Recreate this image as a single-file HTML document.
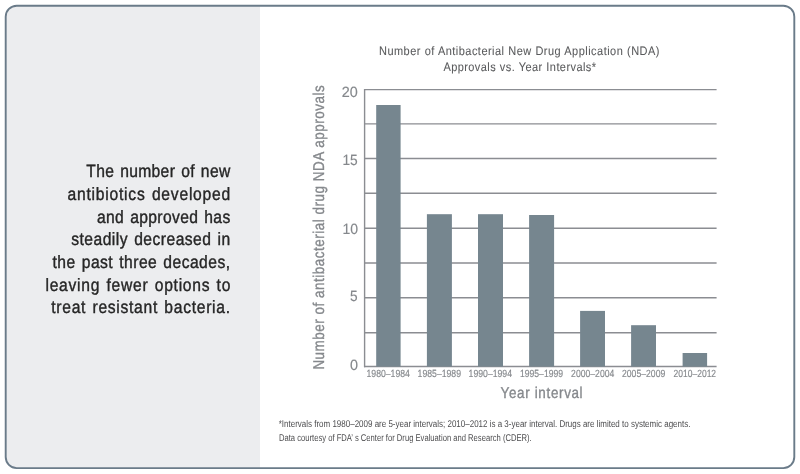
<!DOCTYPE html>
<html lang="en">
<head>
<meta charset="utf-8">
<title>Antibacterial NDA approvals</title>
<style>
  html, body { margin: 0; padding: 0; background: #ffffff; }
  body { width: 800px; height: 474px; overflow: hidden; position: relative;
         font-family: "Liberation Sans", sans-serif; }
  .card { position: absolute; left: 0; top: 0; width: 800px; height: 474px; }
  svg.art { position: absolute; left: 0; top: 0; width: 800px; height: 474px; }
  svg.art text { font-family: "Liberation Sans", sans-serif; text-rendering: geometricPrecision; }
  .lead { fill: #262626; stroke: #262626; stroke-width: 0.4px; font-size: 17.8px; word-spacing: 1.5px; }
  .title { fill: #5a5b5d; stroke: #5a5b5d; stroke-width: 0.08px; font-size: 12.2px; word-spacing: 0.3px; }
  .axis { fill: #85888c; }
  .note { fill: #4d4d4f; font-size: 9.8px; text-rendering: geometricPrecision; }
</style>
</head>
<body>
<div class="card">
<svg class="art" viewBox="0 0 800 474" width="800" height="474">
  <!-- card frame and side panel -->
  <path d="M260 5.7 H16.7 A11 11 0 0 0 5.7 16.7 V457.1 A11 11 0 0 0 16.7 468.1 H260 Z" fill="#ecedef"/>
  <rect x="5.7" y="5.7" width="788.6" height="462.4" rx="11" ry="11" fill="none" stroke="#6a7b89" stroke-width="1.9"/>

  <!-- lead paragraph -->
  <g class="lead">
    <text transform="translate(230.2 177.4) scale(0.88 1)" textLength="163.58" lengthAdjust="spacing" text-anchor="end">The number of new</text>
    <text transform="translate(230.2 200.1) scale(0.88 1)" textLength="184.89" lengthAdjust="spacing" text-anchor="end">antibiotics developed</text>
    <text transform="translate(230.2 222.6) scale(0.88 1)" textLength="151.36" lengthAdjust="spacing" text-anchor="end">and approved has</text>
    <text transform="translate(230.2 245.4) scale(0.88 1)" textLength="180.62" lengthAdjust="spacing" text-anchor="end">steadily decreased in</text>
    <text transform="translate(230.0 268.0) scale(0.88 1)" textLength="201.70" lengthAdjust="spacing" text-anchor="end">the past three decades,</text>
    <text transform="translate(230.4 291.0) scale(0.88 1)" textLength="210.11" lengthAdjust="spacing" text-anchor="end">leaving fewer options to</text>
    <text transform="translate(230.0 313.4) scale(0.88 1)" textLength="203.12" lengthAdjust="spacing" text-anchor="end">treat resistant bacteria.</text>
  </g>

  <!-- chart title -->
  <g class="title">
    <text transform="translate(379 55.3) scale(0.9 1)" textLength="311.56" lengthAdjust="spacing">Number of Antibacterial New Drug Application (NDA)</text>
    <text transform="translate(443.4 71.4) scale(0.9 1)" textLength="169.56" lengthAdjust="spacing">Approvals vs. Year Intervals*</text>
  </g>

  <!-- grid -->
  <g stroke="#8b8d92" stroke-width="1.4" fill="none">
    <line x1="364" y1="89.6" x2="716.6" y2="89.6"/>
    <line x1="364" y1="123.9" x2="716.6" y2="123.9"/>
    <line x1="364" y1="158.5" x2="716.6" y2="158.5"/>
    <line x1="364" y1="193.2" x2="716.6" y2="193.2"/>
    <line x1="364" y1="228.2" x2="716.6" y2="228.2"/>
    <line x1="364" y1="263" x2="716.6" y2="263"/>
    <line x1="364" y1="297.8" x2="716.6" y2="297.8"/>
    <line x1="364" y1="332.8" x2="716.6" y2="332.8"/>
    <line x1="364" y1="366.55" x2="716.6" y2="366.55"/>
    <line x1="364.6" y1="88.9" x2="364.6" y2="367.25"/>
  </g>

  <!-- bars -->
  <g fill="#76868f">
    <rect x="376.2" y="105" width="24.4" height="261.6"/>
    <rect x="426.9" y="214.2" width="25" height="152.4"/>
    <rect x="478" y="214.2" width="25" height="152.4"/>
    <rect x="529.1" y="215" width="25" height="151.6"/>
    <rect x="580.1" y="310.9" width="24.9" height="55.7"/>
    <rect x="631.1" y="325.2" width="24.9" height="41.4"/>
    <rect x="682.6" y="353" width="24.5" height="13.6"/>
  </g>

  <!-- y ticks -->
  <g class="axis" font-size="14.8" stroke="#85888c" stroke-width="0.15">
    <text transform="translate(357.7 96.5)" textLength="16.00" lengthAdjust="spacingAndGlyphs" text-anchor="end">20</text>
    <text transform="translate(357.7 164.6)" textLength="15.30" lengthAdjust="spacingAndGlyphs" text-anchor="end">15</text>
    <text transform="translate(358.0 233.7)" textLength="15.60" lengthAdjust="spacingAndGlyphs" text-anchor="end">10</text>
    <text transform="translate(357.7 301.4)" textLength="7.60" lengthAdjust="spacingAndGlyphs" text-anchor="end">5</text>
    <text transform="translate(358.0 370)" textLength="8.00" lengthAdjust="spacingAndGlyphs" text-anchor="end">0</text>
  </g>

  <!-- x ticks -->
  <g class="axis" font-size="10.4" stroke="#85888c" stroke-width="0.15">
    <text transform="translate(366.5 376.6)" textLength="43.40" lengthAdjust="spacingAndGlyphs">1980–1984</text>
    <text transform="translate(417.6 376.6)" textLength="43.40" lengthAdjust="spacingAndGlyphs">1985–1989</text>
    <text transform="translate(468.6 376.6)" textLength="43.40" lengthAdjust="spacingAndGlyphs">1990–1994</text>
    <text transform="translate(520 376.6)" textLength="43.00" lengthAdjust="spacingAndGlyphs">1995–1999</text>
    <text transform="translate(571.1 376.6)" textLength="43.20" lengthAdjust="spacingAndGlyphs">2000–2004</text>
    <text transform="translate(622 376.6)" textLength="43.30" lengthAdjust="spacingAndGlyphs">2005–2009</text>
    <text transform="translate(673.5 376.6)" textLength="42.60" lengthAdjust="spacingAndGlyphs">2010–2012</text>
  </g>

  <!-- axis titles -->
  <g class="axis" font-size="15.6" stroke="#85888c" stroke-width="0.35">
    <text transform="translate(500.6 398.1) scale(0.86 1)" textLength="95.35" lengthAdjust="spacing">Year interval</text>
    <text transform="translate(323.8 369.6) rotate(-90) scale(0.86 1)" textLength="330.47" lengthAdjust="spacing">Number of antibacterial drug NDA approvals</text>
  </g>

  <!-- footnotes -->
  <g class="note">
    <text transform="translate(278.7 427.3) scale(0.85 1)" textLength="484.35" lengthAdjust="spacingAndGlyphs">*Intervals from 1980–2009 are 5-year intervals; 2010–2012 is a 3-year interval. Drugs are limited to systemic agents.</text>
    <text transform="translate(279 440.6) scale(0.85 1)" textLength="297.29" lengthAdjust="spacingAndGlyphs">Data courtesy of FDA’ s Center for Drug Evaluation and Research (CDER).</text>
  </g>
</svg>
</div>
</body>
</html>
